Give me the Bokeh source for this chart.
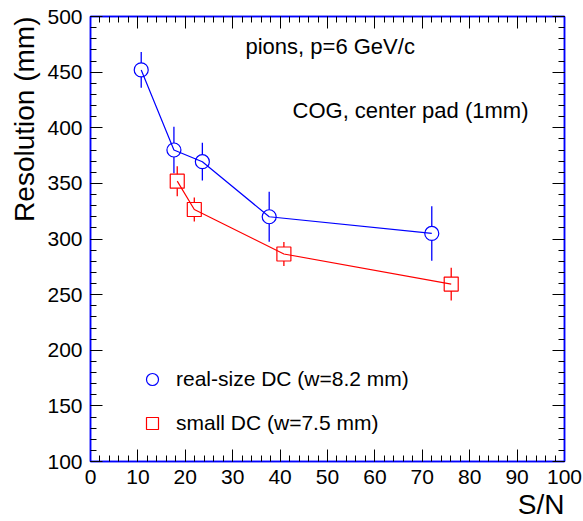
from bokeh.plotting import figure
from bokeh.models import (Range1d, FixedTicker, LinearAxis, Label, Legend, LegendItem,
                          ColumnDataSource, Title)
from bokeh.embed import file_html
from bokeh.resources import INLINE

# ---- data ----
sn_real = [10.7, 17.6, 23.6, 37.7, 72.0]
res_real = [452.0, 380.0, 369.5, 320.0, 305.0]
err_real = [16.0, 21.0, 17.0, 22.5, 24.5]

sn_small = [18.3, 21.9, 40.8, 76.1]
res_small = [352.0, 326.5, 286.5, 259.5]
err_small = [13.5, 10.8, 10.8, 14.7]

x_ticks = list(range(0, 101, 10))
x_minor = list(range(0, 101, 2))
y_ticks = list(range(100, 501, 50))
y_minor = list(range(100, 501, 10))

label_real = "real-size DC (w=8.2 mm)"
label_small = "small DC (w=7.5 mm)"
text_top = "pions, p=6 GeV/c"
text_cog = "COG, center pad (1mm)"
x_title = "S/N"
y_title = "Resolution (mm)"

FONT = "Liberation Sans"
BLUE = "#0000ff"
RED = "#ff0000"

W, H = 583, 521
p = figure(width=W, height=H, output_backend="svg", toolbar_location=None,
           x_range=Range1d(0, 100), y_range=Range1d(100, 500),
           min_border_left=90, min_border_right=19, min_border_top=16, min_border_bottom=60,
           x_axis_location=None, y_axis_location=None)
p.grid.visible = False
p.outline_line_color = BLUE
p.outline_line_width = 1.5
p.background_fill_color = "white"
p.border_fill_color = "white"

def style_axis(ax, ticks, minor, labels=True):
    ax.ticker = FixedTicker(ticks=ticks, minor_ticks=minor)
    ax.axis_line_color = BLUE
    ax.axis_line_width = 1.5
    ax.major_tick_in = 12
    ax.major_tick_out = 0
    ax.minor_tick_in = 6
    ax.minor_tick_out = 0
    ax.major_tick_line_color = "black"
    ax.minor_tick_line_color = "black"
    ax.major_tick_line_width = 1
    ax.minor_tick_line_width = 1
    ax.major_label_text_font = FONT
    if labels:
        ax.major_label_text_font_size = "21px"
        ax.major_label_text_color = "black"
        ax.major_label_standoff = 8
    else:
        ax.major_label_overrides = {t: "" for t in ticks}
        ax.major_label_text_font_size = "1px"
        ax.major_label_standoff = 0

xb = LinearAxis(); style_axis(xb, x_ticks, x_minor); p.add_layout(xb, "below")
xa = LinearAxis(); style_axis(xa, x_ticks, x_minor, False); p.add_layout(xa, "above")
yl = LinearAxis(); style_axis(yl, y_ticks, y_minor); p.add_layout(yl, "left")
yr = LinearAxis(); style_axis(yr, y_ticks, y_minor, False); p.add_layout(yr, "right")

# gap of error bars around marker (marker radius ~7 px)
px_per_unit = (H - 16 - 60) / 400.0
gap = 7.0 / px_per_unit

def series(xs, ys, es, color, marker):
    p.line(xs, ys, line_color=color, line_width=1.2)
    src = ColumnDataSource(dict(
        x=xs,
        lo0=[y - e for y, e in zip(ys, es)], lo1=[y - gap for y in ys],
        hi0=[y + gap for y in ys], hi1=[y + e for y, e in zip(ys, es)]))
    p.segment(x0="x", y0="lo0", x1="x", y1="lo1", source=src, line_color=color, line_width=1.3)
    p.segment(x0="x", y0="hi0", x1="x", y1="hi1", source=src, line_color=color, line_width=1.3)
    return p.scatter(xs, ys, marker=marker, size=14, fill_color=None,
                     line_color=color, line_width=1.2)

r_real = series(sn_real, res_real, err_real, BLUE, "circle")
r_small = series(sn_small, res_small, err_small, RED, "square")

legend = Legend(items=[LegendItem(label=label_real, renderers=[r_real]),
                       LegendItem(label=label_small, renderers=[r_small])],
                location=(47, 23), glyph_width=30, glyph_height=30, spacing=14,
                label_standoff=9, padding=0, margin=0,
                label_text_font=FONT, label_text_font_size="21px",
                label_text_color="black", label_text_baseline="middle",
                border_line_alpha=0, background_fill_alpha=0)
p.add_layout(legend, "center")

p.add_layout(Label(x=32.7, y=473, text=text_top, text_font=FONT, text_font_size="22px",
                   text_color="black", text_baseline="middle", text_align="left"))
p.add_layout(Label(x=92.4, y=415.5, text=text_cog, text_font=FONT, text_font_size="22px",
                   text_color="black", text_baseline="middle", text_align="right"))

p.add_layout(Title(text=x_title, align="right", text_font=FONT, text_font_size="28px",
                   text_color="black", text_font_style="normal", standoff=0, offset=0),
             "below")
p.add_layout(Title(text=y_title, align="right", text_font=FONT, text_font_size="28px",
                   text_color="black", text_font_style="normal", standoff=9, offset=0),
             "left")

open("out.html", "w").write(file_html(p, INLINE))
